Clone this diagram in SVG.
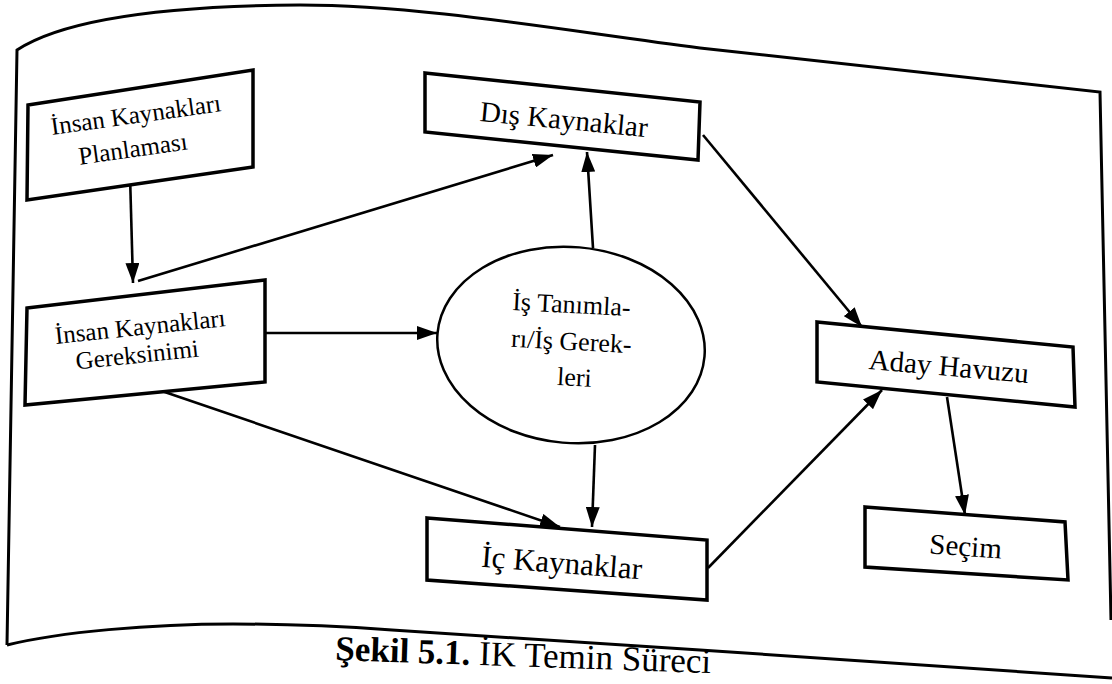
<svg xmlns="http://www.w3.org/2000/svg" width="1112" height="684" viewBox="0 0 1112 684">
<defs>
<marker id="ah" viewBox="0 0 20 14" refX="20" refY="7" markerWidth="20" markerHeight="14" markerUnits="userSpaceOnUse" orient="auto">
<path d="M0,0 L20,7 L0,14 Z" fill="#000"/>
</marker>
<style>
.box{fill:#fff;stroke:#000;stroke-width:3.5;stroke-linejoin:miter}
.ell{fill:#fff;stroke:#000;stroke-width:2.5}
.t{font-family:"Liberation Serif","Times New Roman",serif;font-size:25px;fill:#000;text-anchor:middle}
.c{stroke:#000;stroke-width:2.6;fill:none;marker-end:url(#ah)}
.frame{fill:none;stroke:#000;stroke-width:3}
.cap{font-family:"Liberation Serif","Times New Roman",serif;font-size:35px;fill:#000}
</style>
</defs>
<rect width="1112" height="684" fill="#fff"/>
<path class="frame" d="M7,645 L17,50 C60,22 150,6 300,5 C420,5 560,30 700,48 L1100,92 L1111,620"/>
<path class="frame" d="M7,645 C60,632 150,624 233,624 C300,624 350,627 392,630 L700,650 L1112,678"/>
<text class="cap" transform="translate(335,660) rotate(2)"><tspan font-weight="bold">Şekil 5.1.</tspan> İK Temin Süreci</text>
<g id="connectors">
<line class="c" x1="130" y1="175" x2="133" y2="283"/>
<line class="c" x1="138" y1="281" x2="553" y2="155"/>
<line class="c" x1="265" y1="333" x2="437" y2="333"/>
<line class="c" x1="150" y1="387" x2="560" y2="527"/>
<line class="c" x1="593" y1="248" x2="587" y2="152"/>
<line class="c" x1="595" y1="445" x2="592" y2="527"/>
<line class="c" x1="703" y1="135" x2="862" y2="327"/>
<line class="c" x1="708" y1="568" x2="882" y2="390"/>
<line class="c" x1="947" y1="397" x2="965" y2="515"/>
</g>
<g id="planlama">
<polygon class="box" points="28,105 253,70 253,167 27,200"/>
<text class="t" transform="translate(137,123) rotate(-8)">İnsan Kaynakları</text>
<text class="t" transform="translate(134,157) rotate(-8)">Planlaması</text>
</g>
<g id="gereksinim">
<polygon class="box" points="27,308 265,280 265,382 25,405"/>
<text class="t" transform="translate(141,335) rotate(-6)">İnsan Kaynakları</text>
<text class="t" transform="translate(138,363) rotate(-6)">Gereksinimi</text>
</g>
<g id="dis">
<polygon class="box" points="425,73 700,102 698,160 425,132"/>
<text class="t" style="font-size:29px" transform="translate(563,129) rotate(5.5)">Dış Kaynaklar</text>
</g>
<g id="is">
<ellipse class="ell" cx="571" cy="345" rx="134" ry="98" transform="rotate(5 571 345)"/>
<text class="t" style="font-size:26px" transform="translate(571,313) rotate(3)">İş Tanımla-</text>
<text class="t" style="font-size:26px" transform="translate(571,350) rotate(3)">rı/İş Gerek-</text>
<text class="t" style="font-size:26px" transform="translate(574,386) rotate(3)">leri</text>
</g>
<g id="ic">
<polygon class="box" points="427,518 707,540 707,600 427,580"/>
<text class="t" style="font-size:31px" transform="translate(561,573) rotate(4.5)">İç Kaynaklar</text>
</g>
<g id="aday">
<polygon class="box" points="817,322 1073,347 1075,407 817,382"/>
<text class="t" style="font-size:29px" transform="translate(948,376) rotate(5)">Aday Havuzu</text>
</g>
<g id="secim">
<polygon class="box" points="865,507 1065,522 1068,580 865,567"/>
<text class="t" style="font-size:29px" transform="translate(965,556) rotate(4)">Seçim</text>
</g>
</svg>
